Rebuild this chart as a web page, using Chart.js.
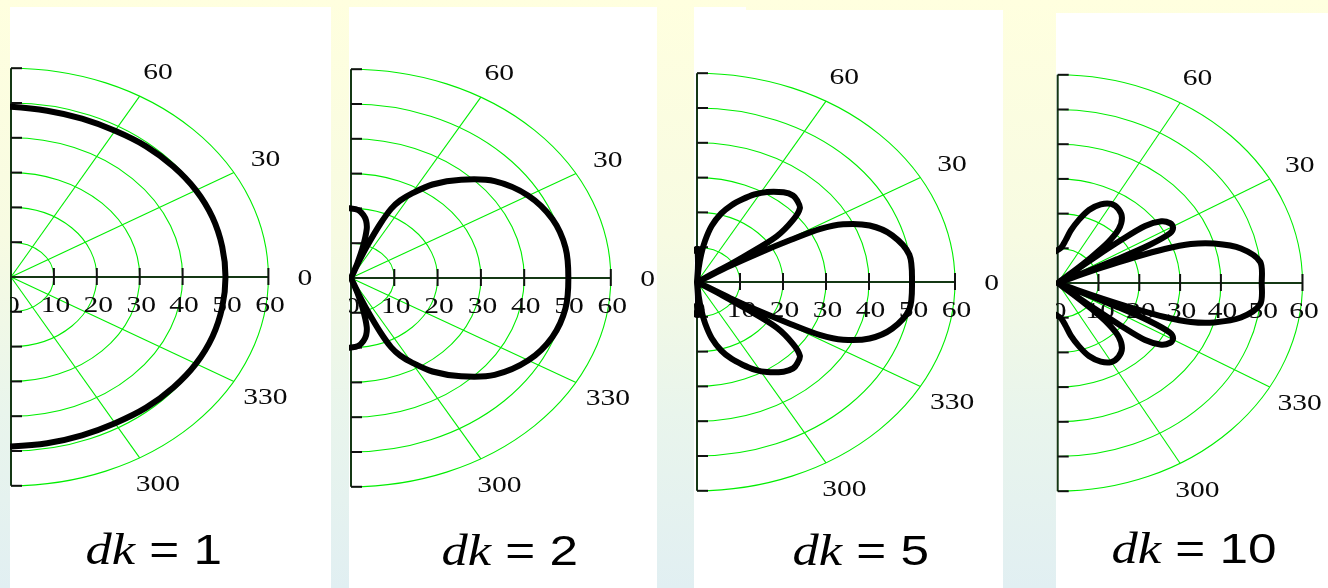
<!DOCTYPE html>
<html>
<head>
<meta charset="utf-8">
<script src="https://cdn.jsdelivr.net/npm/chart.js@4/dist/chart.umd.min.js"></script>
<style>
html,body{margin:0;padding:0;}
body{width:1328px;height:588px;overflow:hidden;position:relative;
  background:linear-gradient(to bottom,#ffffdf 0%,#f7fbe2 40%,#e9f5ec 70%,#e1eff2 100%);}
.panel{position:absolute;background:#ffffff;}
.panel canvas{display:block;}
</style>
</head>
<body>
<div class="panel" style="left:10px;top:7px;width:321px;height:581px"><canvas id="c0" width="321" height="581"></canvas></div>
<div class="panel" style="left:349px;top:7px;width:308px;height:581px"><canvas id="c1" width="308" height="581"></canvas></div>
<div class="panel" style="left:694px;top:7px;width:52px;height:4px"></div>
<div class="panel" style="left:694px;top:10px;width:309px;height:578px"><canvas id="c2" width="309" height="578"></canvas></div>
<div class="panel" style="left:1056px;top:13px;width:272px;height:575px"><canvas id="c3" width="272" height="575"></canvas></div>
<script>
// ---------------- data ----------------
const dkValues = ['1', '2', '5', '10'];
const radialTicks = [10, 20, 30, 40, 50, 60];
const xTickValues = [0, 10, 20, 30, 40, 50, 60];
const xTickLabels = ['0', '10', '20', '30', '40', '50', '60'];
const angleTickDeg = [60, 30, 0, -30, -60];
const angleTickLabels = ['60', '30', '0', '330', '300'];
const spokeDeg = [60, 30, -30, -60];
const rMax = 60;
const angleLabelRadius = 68.5;

// pattern dk = 1 : angle (deg) / radius
const angles_dk1 = [-95,-90,-80,-70,-60,-50,-40,-30,-20,-10,0,10,20,30,40,50,60,70,80,90,95];
const radius_dk1 = [48.8,48.7,48.5,48.4,48.5,49.0,49.4,49.8,50.0,50.0,50.0,50.0,50.0,49.8,49.4,49.0,48.5,48.4,48.5,48.9,49.0];

// pattern dk = 2
const angles_dk2 = [-95,-90,-85,-81,-78,-75.5,-73,-71,-70,-69,-68,-66.5,-65,-63,-60,-55,-48,-40,-30,-20,-10,
  0,10,20,30,40,48,55,60,63,65,66.5,68,69,70,71,73,75.5,78,81,85,90,95];
const radius_dk2 = [20.0,20.0,19.6,18.3,16.8,14.5,9.5,4.5,0,5,10,17,22,25,28,32.8,38,43.3,47.3,49.5,50.3,
  50.2,50.3,49.5,47.3,43.3,38,32.8,28,25,22,17,10,5,0,4.5,9.5,14.5,16.8,18.3,19.6,20.0,20.0];

// pattern dk = 5
const angles_dk5 = [-95,-90,-88.5,-87,-85.5,-84.5,-83,-81,-78,-74,-70,-66,-62,-57.8,-52,-48,-45,-41.6,-38.6,-35.3,-34,-33,-32,-31,-30,-29,-28,-26,-22,-16.5,-9,
  0,9,16.5,22,26,28,29,30,31,32,33,34,35.3,38.6,41.6,45,48,52,57.8,62,66,70,74,78,81,83,84.5,85.5,87,88.5,90,95];
const radius_dk5 = [9,9.5,7.5,4,0,4,8,12,16.5,20.5,23.5,26,28.5,30.6,32.7,33.4,33,32,28.6,22.7,14,7,0,9,17,25,32.5,37.8,43.3,47.3,50,
  50,50,47.3,43.3,37.8,32.5,25,17,9,0,7,14,22.7,28.6,32,33,33.4,32.7,30.6,28.5,26,23.5,20.5,16.5,12,8,4,0,4,7.5,9.5,9];

// pattern dk = 10
const angles_dk10 = [-95,-90,-85,-81,-78,-74,-70,-65,-60,-55,-50,-46,-43.5,-42,-41,-40.4,-39.8,-39.2,-38.5,-37.5,-35,-32,-29.5,-27.5,-26,-25.2,-24.4,-23.7,-23,-22.3,-21.5,-20.5,-19,-16.5,-12.5,-7,
  0,7,12.5,16.5,19,20.5,21.5,22.3,23,23.7,24.4,25.2,26,27.5,29.5,32,35,37.5,38.5,39.2,39.8,40.4,41,42,43.5,46,50,55,60,65,70,74,78,81,85,90,95];
const radius_dk10 = [9,9.5,10.3,12.5,15.5,19,22.4,25,26.3,26,24.5,21.5,17,11,5,0,5,12,20,27,31,32.5,32.5,31,25,16,6,0,5,12,20,28,34.5,40,46,50,
  50,50,46,40,34.5,28,20,12,5,0,6,16,25,31,32.5,32.5,31,27,20,12,5,0,5,11,17,21.5,24.5,26,26.3,25,22.4,19,15.5,12.5,10.3,9.5,9];

const patternAngles = [angles_dk1, angles_dk2, angles_dk5, angles_dk10];
const patternRadii = [radius_dk1, radius_dk2, radius_dk5, radius_dk10];

// ---------------- layout (pixels, per panel) ----------------
const panelLayout = [
  {id:'c0', w:321, h:581, ox:1.0, oy:270, sx:4.29, sy:3.48, labelX:75.5, labelBase:557},
  {id:'c1', w:308, h:581, ox:2.0, oy:271, sx:4.33, sy:3.48, labelX:92.5, labelBase:558},
  {id:'c2', w:309, h:578, ox:3.0, oy:272, sx:4.30, sy:3.48, labelX:98.5, labelBase:555},
  {id:'c3', w:272, h:575, ox:1.7, oy:270, sx:4.08, sy:3.47, labelX:55.5, labelBase:550}
];

function toXY(angles, radii){
  return angles.map((a, i) => {
    const t = a * Math.PI / 180;
    return {x: radii[i] * Math.cos(t), y: radii[i] * Math.sin(t)};
  });
}

const polarFrame = {
  id: 'polarFrame',
  beforeDatasetsDraw(chart, args, opts){
    const ctx = chart.ctx, xs = chart.scales.x, ys = chart.scales.y;
    const ox = xs.getPixelForValue(0), oy = ys.getPixelForValue(0);
    const kx = opts.stretch;
    ctx.save();
    // green polar grid
    ctx.strokeStyle = '#00ee00';
    ctx.lineWidth = 1.1;
    radialTicks.forEach(r => {
      const rx = xs.getPixelForValue(r) - ox;
      const ry = oy - ys.getPixelForValue(r);
      ctx.beginPath();
      ctx.ellipse(ox, oy, rx, ry, 0, -Math.PI/2, Math.PI/2);
      ctx.stroke();
    });
    spokeDeg.forEach(d => {
      const a = d * Math.PI / 180;
      ctx.beginPath();
      ctx.moveTo(ox, oy);
      ctx.lineTo(xs.getPixelForValue(rMax*Math.cos(a)), ys.getPixelForValue(rMax*Math.sin(a)));
      ctx.stroke();
    });
    // axes
    ctx.strokeStyle = '#143814';
    ctx.lineWidth = 2;
    ctx.beginPath(); ctx.moveTo(ox, oy); ctx.lineTo(xs.getPixelForValue(rMax), oy); ctx.stroke();
    ctx.beginPath(); ctx.moveTo(ox, ys.getPixelForValue(rMax)); ctx.lineTo(ox, ys.getPixelForValue(-rMax)); ctx.stroke();
    // ticks
    ctx.strokeStyle = '#111111';
    radialTicks.forEach(r => {
      const x = xs.getPixelForValue(r);
      ctx.beginPath(); ctx.moveTo(x, oy - 9); ctx.lineTo(x, oy + 8); ctx.stroke();
      [r, -r].forEach(v => {
        const y = ys.getPixelForValue(v);
        ctx.beginPath(); ctx.moveTo(ox, y); ctx.lineTo(ox + 11, y); ctx.stroke();
      });
    });
    // labels
    ctx.fillStyle = '#0a0a0a';
    ctx.font = '24px "Liberation Serif", "Times New Roman", serif';
    ctx.textAlign = 'center';
    ctx.textBaseline = 'alphabetic';
    const text = (s, x, y) => { ctx.save(); ctx.translate(x, y); ctx.scale(kx, 1); ctx.fillText(s, 0, 0); ctx.restore(); };
    xTickValues.forEach((v, i) => text(xTickLabels[i], xs.getPixelForValue(v) + 1.5, oy + 35));
    angleTickDeg.forEach((d, i) => {
      const a = d * Math.PI / 180;
      text(angleTickLabels[i], xs.getPixelForValue(angleLabelRadius*Math.cos(a)), ys.getPixelForValue(angleLabelRadius*Math.sin(a)) + 8);
    });
    ctx.restore();
  },
  afterDraw(chart, args, opts){
    const ctx = chart.ctx;
    ctx.save();
    ctx.translate(opts.labelX, opts.labelBase);
    ctx.scale(opts.stretch * 0.97, 1);
    ctx.fillStyle = '#000';
    ctx.textAlign = 'left';
    ctx.textBaseline = 'alphabetic';
    ctx.font = 'italic 44px "Liberation Serif", "Times New Roman", serif';
    ctx.fillText('dk', 0, 0);
    const w = ctx.measureText('dk').width;
    ctx.font = '43px "Liberation Sans", Arial, sans-serif';
    ctx.fillText(' = ' + opts.dk, w, 0);
    ctx.restore();
  }
};

panelLayout.forEach((g, i) => {
  const ctx = document.getElementById(g.id).getContext('2d');
  new Chart(ctx, {
    type: 'scatter',
    data: {
      datasets: [{
        data: toXY(patternAngles[i], patternRadii[i]),
        showLine: true,
        borderColor: '#000000',
        borderWidth: 6,
        pointRadius: 0,
        tension: 0.3,
        fill: false,
        borderJoinStyle: 'round',
        borderCapStyle: 'round'
      }]
    },
    options: {
      responsive: false,
      maintainAspectRatio: false,
      animation: false,
      devicePixelRatio: 1,
      events: [],
      layout: {padding: 0},
      scales: {
        x: {type: 'linear', display: false, min: -g.ox / g.sx, max: (g.w - g.ox) / g.sx},
        y: {type: 'linear', display: false, min: -(g.h - g.oy) / g.sy, max: g.oy / g.sy}
      },
      plugins: {
        legend: {display: false},
        tooltip: {enabled: false},
        polarFrame: {stretch: 1.23, labelX: g.labelX, labelBase: g.labelBase, dk: dkValues[i]}
      }
    },
    plugins: [polarFrame]
  });
});
</script>
</body>
</html>
